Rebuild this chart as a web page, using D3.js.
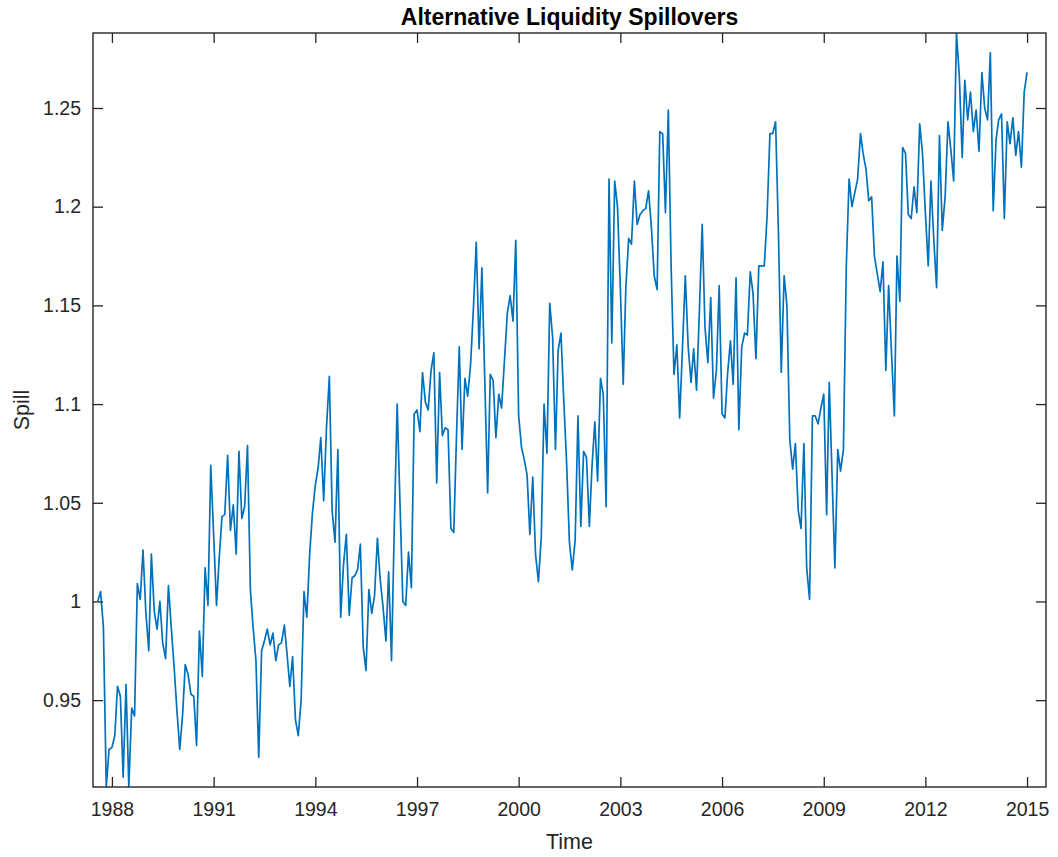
<!DOCTYPE html>
<html>
<head>
<meta charset="utf-8">
<script src="https://cdn.jsdelivr.net/npm/d3@7"></script>
<style>
  html, body { margin: 0; padding: 0; background: #fff; }
  svg { display: block; font-family: "Liberation Sans", Arial, Helvetica, sans-serif; }
</style>
</head>
<body>
<svg id="chart" width="1058" height="857"></svg>
<script>
// Monthly liquidity spillover index, Aug 1987 - Jan 2015
const startYear = 1987;
const startMonth = 8; // August
const spill = [
  1.000, 1.005, 0.987, 0.906, 0.925, 0.926, 0.932, 0.957, 0.952, 0.911,
  0.958, 0.906, 0.946, 0.942, 1.009, 1.001, 1.026, 0.994, 0.975, 1.024,
  0.995, 0.986, 1.000, 0.979, 0.971, 1.008, 0.987, 0.967, 0.945, 0.925,
  0.943, 0.968, 0.963, 0.953, 0.952, 0.927, 0.985, 0.962, 1.017, 0.998,
  1.069, 1.034, 0.998, 1.021, 1.043, 1.044, 1.074, 1.036, 1.049, 1.024,
  1.076, 1.042, 1.048, 1.079, 1.006, 0.987, 0.970, 0.921, 0.975, 0.980,
  0.986, 0.978, 0.984, 0.970, 0.978, 0.979, 0.988, 0.974, 0.957, 0.972,
  0.940, 0.932, 0.950, 1.005, 0.992, 1.024, 1.045, 1.059, 1.068, 1.083,
  1.051, 1.088, 1.114, 1.046, 1.030, 1.077, 0.992, 1.019, 1.034, 0.993,
  1.012, 1.013, 1.016, 1.029, 0.977, 0.965, 1.006, 0.994, 1.003, 1.032,
  1.011, 0.997, 0.980, 1.015, 0.970, 1.038, 1.100, 1.050, 1.000, 0.998,
  1.025, 1.007, 1.095, 1.097, 1.086, 1.116, 1.101, 1.097, 1.117, 1.126,
  1.060, 1.116, 1.084, 1.088, 1.087, 1.037, 1.035, 1.082, 1.129, 1.077,
  1.113, 1.104, 1.120, 1.149, 1.182, 1.128, 1.169, 1.112, 1.055, 1.115,
  1.112, 1.083, 1.105, 1.098, 1.122, 1.146, 1.155, 1.142, 1.183, 1.094,
  1.078, 1.072, 1.064, 1.034, 1.063, 1.024, 1.010, 1.033, 1.100, 1.075,
  1.151, 1.134, 1.077, 1.127, 1.136, 1.102, 1.070, 1.030, 1.016, 1.031,
  1.094, 1.038, 1.076, 1.073, 1.038, 1.068, 1.091, 1.061, 1.113, 1.105,
  1.048, 1.214, 1.131, 1.213, 1.200, 1.159, 1.110, 1.159, 1.184, 1.181,
  1.213, 1.191, 1.196, 1.198, 1.199, 1.208, 1.190, 1.165, 1.158, 1.238,
  1.237, 1.197, 1.249, 1.170, 1.115, 1.130, 1.093, 1.129, 1.165, 1.129,
  1.111, 1.128, 1.107, 1.146, 1.191, 1.139, 1.121, 1.154, 1.103, 1.117,
  1.160, 1.095, 1.093, 1.115, 1.132, 1.110, 1.164, 1.087, 1.129, 1.136,
  1.135, 1.167, 1.156, 1.123, 1.170, 1.170, 1.170, 1.195, 1.237, 1.237,
  1.243, 1.186, 1.116, 1.165, 1.150, 1.082, 1.067, 1.080, 1.046, 1.037,
  1.080, 1.017, 1.001, 1.094, 1.094, 1.090, 1.098, 1.105, 1.044, 1.111,
  1.063, 1.017, 1.077, 1.066, 1.077, 1.170, 1.214, 1.200, 1.207, 1.214,
  1.237, 1.227, 1.219, 1.203, 1.205, 1.175, 1.166, 1.157, 1.172, 1.117,
  1.160, 1.126, 1.094, 1.175, 1.152, 1.230, 1.227, 1.196, 1.194, 1.210,
  1.197, 1.242, 1.227, 1.197, 1.170, 1.213, 1.183, 1.159, 1.236, 1.188,
  1.205, 1.243, 1.229, 1.213, 1.288, 1.266, 1.225, 1.264, 1.244, 1.258,
  1.238, 1.249, 1.228, 1.268, 1.250, 1.244, 1.278, 1.198, 1.234, 1.244,
  1.247, 1.194, 1.243, 1.232, 1.245, 1.226, 1.238, 1.220, 1.258, 1.268
];
const xTickYears = [1988, 1991, 1994, 1997, 2000, 2003, 2006, 2009, 2012, 2015];
const yTickValues = [0.95, 1.0, 1.05, 1.1, 1.15, 1.2, 1.25];
const yTickLabels = ["0.95", "1", "1.05", "1.1", "1.15", "1.2", "1.25"];
const titleText = "Alternative Liquidity Spillovers";
const xLabelText = "Time";
const yLabelText = "Spill";

const data = spill.map((v, i) => ({ date: new Date(startYear, startMonth - 1 + i, 1), value: v }));

const svg = d3.select("#chart");
const box = { left: 93, right: 1046, top: 33, bottom: 787 };
const axisColor = "#262626";
const tickLen = 10;

const x = d3.scaleTime()
  .domain([new Date(1987, 5, 11), new Date(2015, 6, 24)])
  .range([box.left, box.right]);
const y = d3.scaleLinear()
  .domain(d3.extent(spill))
  .range([box.bottom, box.top]);

// clip the series to the axes box
svg.append("defs").append("clipPath").attr("id", "plotClip")
  .append("rect")
  .attr("x", box.left).attr("y", box.top)
  .attr("width", box.right - box.left).attr("height", box.bottom - box.top);

const line = d3.line().x(d => x(d.date)).y(d => y(d.value));
svg.append("path")
  .datum(data)
  .attr("clip-path", "url(#plotClip)")
  .attr("fill", "none")
  .attr("stroke", "#0072BD")
  .attr("stroke-width", 1.7)
  .attr("stroke-linejoin", "round")
  .attr("d", line);

const xTicks = xTickYears.map(yr => new Date(yr, 0, 1));

function styleAxis(g) {
  g.select(".domain").remove();
  g.selectAll(".tick line").attr("stroke", axisColor).attr("stroke-width", 1.3);
  g.selectAll(".tick text").attr("fill", axisColor).attr("font-size", 19.5)
    .attr("font-family", "'Liberation Sans', Arial, sans-serif");
}

// bottom axis with labels, inward ticks
svg.append("g")
  .attr("transform", `translate(0,${box.bottom})`)
  .call(d3.axisBottom(x).tickValues(xTicks).tickFormat(d3.timeFormat("%Y"))
    .tickSizeInner(-tickLen).tickSizeOuter(0).tickPadding(15))
  .call(styleAxis);

// top axis, ticks only
svg.append("g")
  .attr("transform", `translate(0,${box.top})`)
  .call(d3.axisTop(x).tickValues(xTicks).tickFormat(() => "")
    .tickSizeInner(-tickLen).tickSizeOuter(0))
  .call(styleAxis);

// left axis with labels
svg.append("g")
  .attr("transform", `translate(${box.left},0)`)
  .call(d3.axisLeft(y).tickValues(yTickValues).tickFormat((d, i) => yTickLabels[i])
    .tickSizeInner(-tickLen).tickSizeOuter(0).tickPadding(12))
  .call(styleAxis);

// right axis, ticks only
svg.append("g")
  .attr("transform", `translate(${box.right},0)`)
  .call(d3.axisRight(y).tickValues(yTickValues).tickFormat(() => "")
    .tickSizeInner(-tickLen).tickSizeOuter(0))
  .call(styleAxis);

// axes box
svg.append("rect")
  .attr("x", box.left).attr("y", box.top)
  .attr("width", box.right - box.left).attr("height", box.bottom - box.top)
  .attr("fill", "none")
  .attr("stroke", axisColor)
  .attr("stroke-width", 1.4);

// title and axis labels
svg.append("text")
  .attr("x", (box.left + box.right) / 2).attr("y", 25)
  .attr("text-anchor", "middle")
  .attr("font-size", 23).attr("font-weight", "bold")
  .attr("fill", "#000")
  .text(titleText);

svg.append("text")
  .attr("x", (box.left + box.right) / 2).attr("y", 849)
  .attr("text-anchor", "middle")
  .attr("font-size", 21.5)
  .attr("fill", axisColor)
  .text(xLabelText);

svg.append("text")
  .attr("transform", `translate(29,${(box.top + box.bottom) / 2}) rotate(-90)`)
  .attr("text-anchor", "middle")
  .attr("font-size", 21.5)
  .attr("fill", axisColor)
  .text(yLabelText);
</script>
</body>
</html>
